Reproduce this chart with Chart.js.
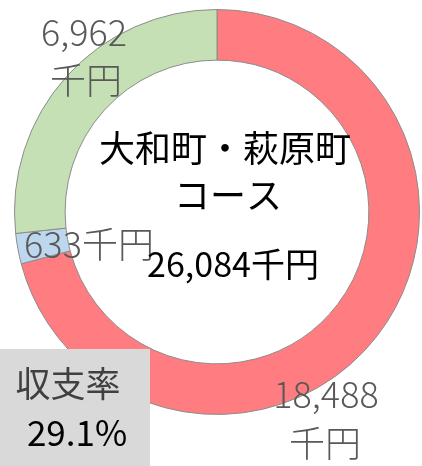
<!DOCTYPE html>
<html>
<head>
<meta charset="utf-8">
<script src="https://cdn.jsdelivr.net/npm/chart.js@4/dist/chart.umd.min.js"></script>
<style>
  html, body { margin: 0; padding: 0; background: #fff; }
  #wrap { width: 422px; height: 466px; position: relative; }
</style>
</head>
<body>
<div id="wrap"><canvas id="costChart"></canvas></div>
<script>
// 収支の内訳（千円）
const categories = ['赤字', 'その他', '収入'];
const values = [18488, 633, 6962];
const colors = ['#FF7C80', '#BDD7EE', '#C5E0B4'];
const courseName = ['大和町・萩原町', 'コース'];
const totalValue = 26084; // 表示上の合計（千円）
const ratioText = '29.1%';

const fmt = v => v.toLocaleString('en-US');

const labelFont = '300 36px "Noto Sans CJK JP"';

const textPlugin = {
    id: 'texts',
    afterDatasetsDraw(chart) {
        const ctx = chart.ctx;
        ctx.save();
        ctx.textAlign = 'center';
        ctx.textBaseline = 'middle';

        // value labels
        ctx.fillStyle = '#595959';
        ctx.font = labelFont;
        ctx.fillText(fmt(values[2]), 84, 32);
        ctx.fillText('千円', 86, 80);
        ctx.fillText(fmt(values[1]) + '千円', 89, 244);
        ctx.fillText(fmt(values[0]), 326, 394);
        ctx.fillText('千円', 325, 443);

        // centre
        ctx.fillStyle = '#000';
        ctx.font = '36px "Noto Sans CJK JP"';
        ctx.fillText(courseName[0], 225, 148);
        ctx.fillText(courseName[1], 228, 195);
        ctx.font = '34px "Noto Sans CJK JP"';
        ctx.fillText(fmt(totalValue) + '千円', 233, 264);

        // ratio box
        ctx.fillStyle = '#D9D9D9';
        ctx.fillRect(0, 349, 150, 117);
        ctx.fillStyle = '#404040';
        ctx.font = '35px "Noto Sans CJK JP"';
        ctx.fillText('収支率', 68, 384);
        ctx.fillStyle = '#000';
        ctx.fillText(ratioText, 77, 433);
        ctx.restore();
    }
};

const ctx = document.getElementById('costChart').getContext('2d');
const chart = new Chart(ctx, {
    type: 'doughnut',
    data: {
        labels: categories,
        datasets: [{
            data: values,
            backgroundColor: colors,
            borderColor: '#8C8C8C',
            borderWidth: 1
        }]
    },
    options: {
        responsive: true,
        maintainAspectRatio: false,
        animation: false,
        cutout: '75%',
        layout: { padding: { left: 14, right: 2, top: 9, bottom: 51 } },
        plugins: {
            legend: { display: false },
            tooltip: { enabled: false }
        }
    },
    plugins: [textPlugin]
});
</script>
</body>
</html>
